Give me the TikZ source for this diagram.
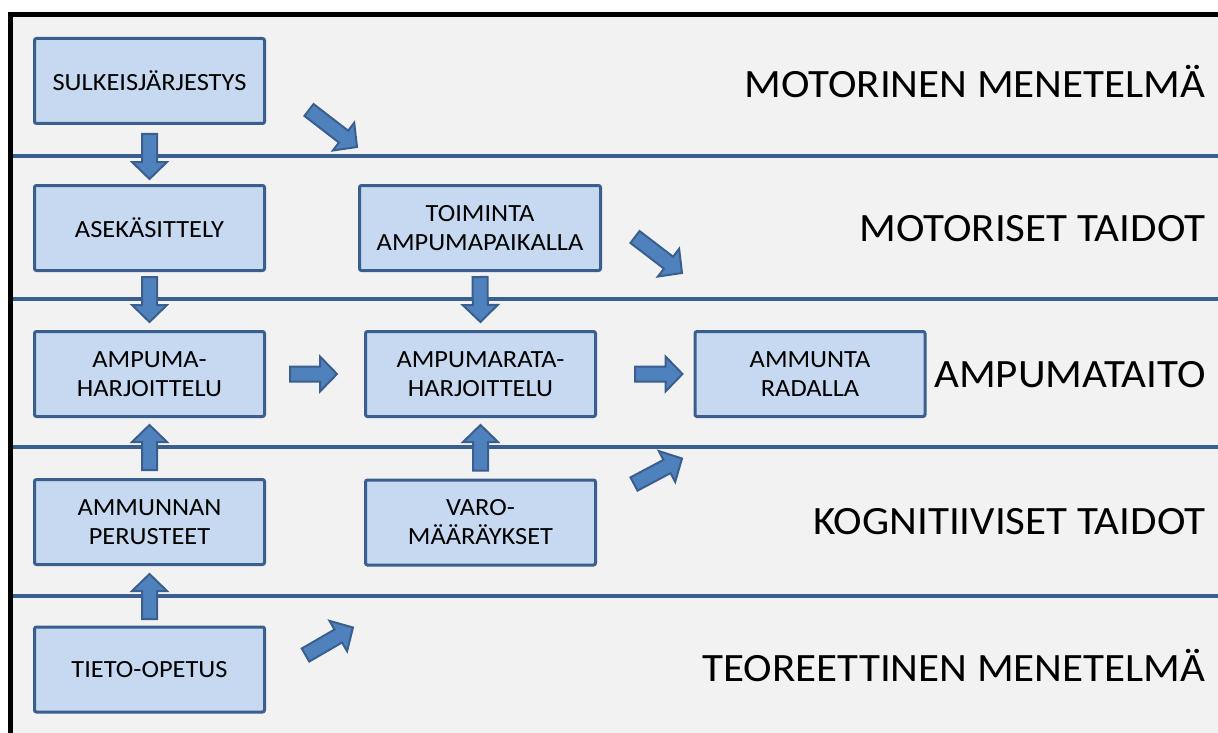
\documentclass[tikz,border=0pt]{standalone}
\usepackage{fontspec}
\setmainfont{Carlito}[FakeStretch=1.07]
\usetikzlibrary{calc}

\definecolor{bgpanel}{HTML}{F2F2F2}
\definecolor{boxfill}{HTML}{C6D9F0}
\definecolor{boxline}{HTML}{3A5F8F}
\definecolor{arrowfill}{HTML}{4F81BD}

\begin{document}
\begin{tikzpicture}[x=1pt, y=-1pt,
    stepbox/.style={draw=boxline, line width=3pt, fill=boxfill, rounded corners=2pt,
        minimum width=230pt, minimum height=85pt, inner sep=0pt, align=center,
        font=\fontsize{24.7}{29}\selectfont},
    level/.style={anchor=base east, font=\fontsize{40.2}{48}\selectfont},
    divider/.style={draw=boxline, line width=4pt},
    barrow/.style={draw=boxline, line width=2pt, fill=arrowfill, line join=miter,
        to path={let \p1=(\tikztostart), \p2=(\tikztotarget), \p3=($(\p2)!17pt!(\p1)$) in
            ($(\p1)!7.5pt!90:(\p2)$) -- ($(\p3)!7.5pt!90:(\p2)$) -- ($(\p3)!17.5pt!90:(\p2)$)
            -- (\p2) -- ($(\p3)!17.5pt!-90:(\p2)$) -- ($(\p3)!7.5pt!-90:(\p2)$)
            -- ($(\p1)!7.5pt!-90:(\p2)$) -- cycle}}
]
    \useasboundingbox (0,0) rectangle (1218,733);

    % Panel and frame
    \fill[white] (0,0) rectangle (1218,733);
    \fill[bgpanel] (10.5,14.5) rectangle (1218,733);
    \draw[line width=5pt] (10.5,733) -- (10.5,14.5) -- (1218,14.5);
    \foreach \y in {156,299,447,596}
        \draw[divider] (13,\y) -- (1218,\y);

    % Levels
    \node[level] (motmen) at (1209,98) {MOTORINEN MENETELMÄ};
    \node[level] (mottaidot) at (1209,241.5) {MOTORISET TAIDOT};
    \node[level] (ampumataito) at (1209,387.5) {AMPUMATAITO};
    \node[level] (kogn) at (1209,534.5) {KOGNITIIVISET TAIDOT};
    \node[level] (teormen) at (1209,681) {TEOREETTINEN MENETELMÄ};

    % Boxes
    \node[stepbox] (sulkeis) at (149.5,81) {SULKEISJÄRJESTYS};
    \node[stepbox] (asekas) at (149.5,228) {ASEKÄSITTELY};
    \node[stepbox] (harj) at (149.5,374) {AMPUMA-\\HARJOITTELU};
    \node[stepbox] (perusteet) at (149.5,522) {AMMUNNAN\\PERUSTEET};
    \node[stepbox] (tieto) at (149.5,669.5) {TIETO-OPETUS};
    \node[stepbox, minimum width=241pt] (toiminta) at (480,228) {TOIMINTA\\AMPUMAPAIKALLA};
    \node[stepbox] (ratah) at (480.5,374) {AMPUMARATA-\\HARJOITTELU};
    \node[stepbox] (varo) at (480.5,522.5) {VARO-\\MÄÄRÄYKSET};
    \node[stepbox] (radalla) at (810,374) {AMMUNTA\\RADALLA};

    % Block arrows
    \draw[barrow] ($(sulkeis.south)+(0,9)$) to ($(asekas.north)+(0,-5)$);
    \draw[barrow] ($(asekas.south)+(0,5)$) to ($(harj.north)+(0,-8)$);
    \draw[barrow] ($(perusteet.north)+(0,-8)$) to ($(harj.south)+(0,7)$);
    \draw[barrow] ($(tieto.north)+(0,-6.5)$) to ($(perusteet.south)+(0,8)$);
    \draw[barrow] ($(toiminta.south)+(0,5)$) to ($(ratah.north)+(0,-8)$);
    \draw[barrow] ($(varo.north)+(0,-8)$) to ($(ratah.south)+(0,7)$);
    \draw[barrow] ($(harj.east)+(24,0)$) to ($(ratah.west)+(-27,0)$);
    \draw[barrow] ($(ratah.east)+(38,0)$) to ($(radalla.west)+(-11,0)$);

    % Diagonal arrows
    \coordinate (d1s) at (309,110);   \coordinate (d1e) at (357,147);
    \coordinate (d2s) at (635,237);   \coordinate (d2e) at (682,273);
    \coordinate (d3s) at (634,484);   \coordinate (d3e) at (682,458.5);
    \coordinate (d4s) at (305.5,655); \coordinate (d4e) at (353,627.5);
    \draw[barrow] (d1s) to (d1e);
    \draw[barrow] (d2s) to (d2e);
    \draw[barrow] (d3s) to (d3e);
    \draw[barrow] (d4s) to (d4e);
\end{tikzpicture}
\end{document}
